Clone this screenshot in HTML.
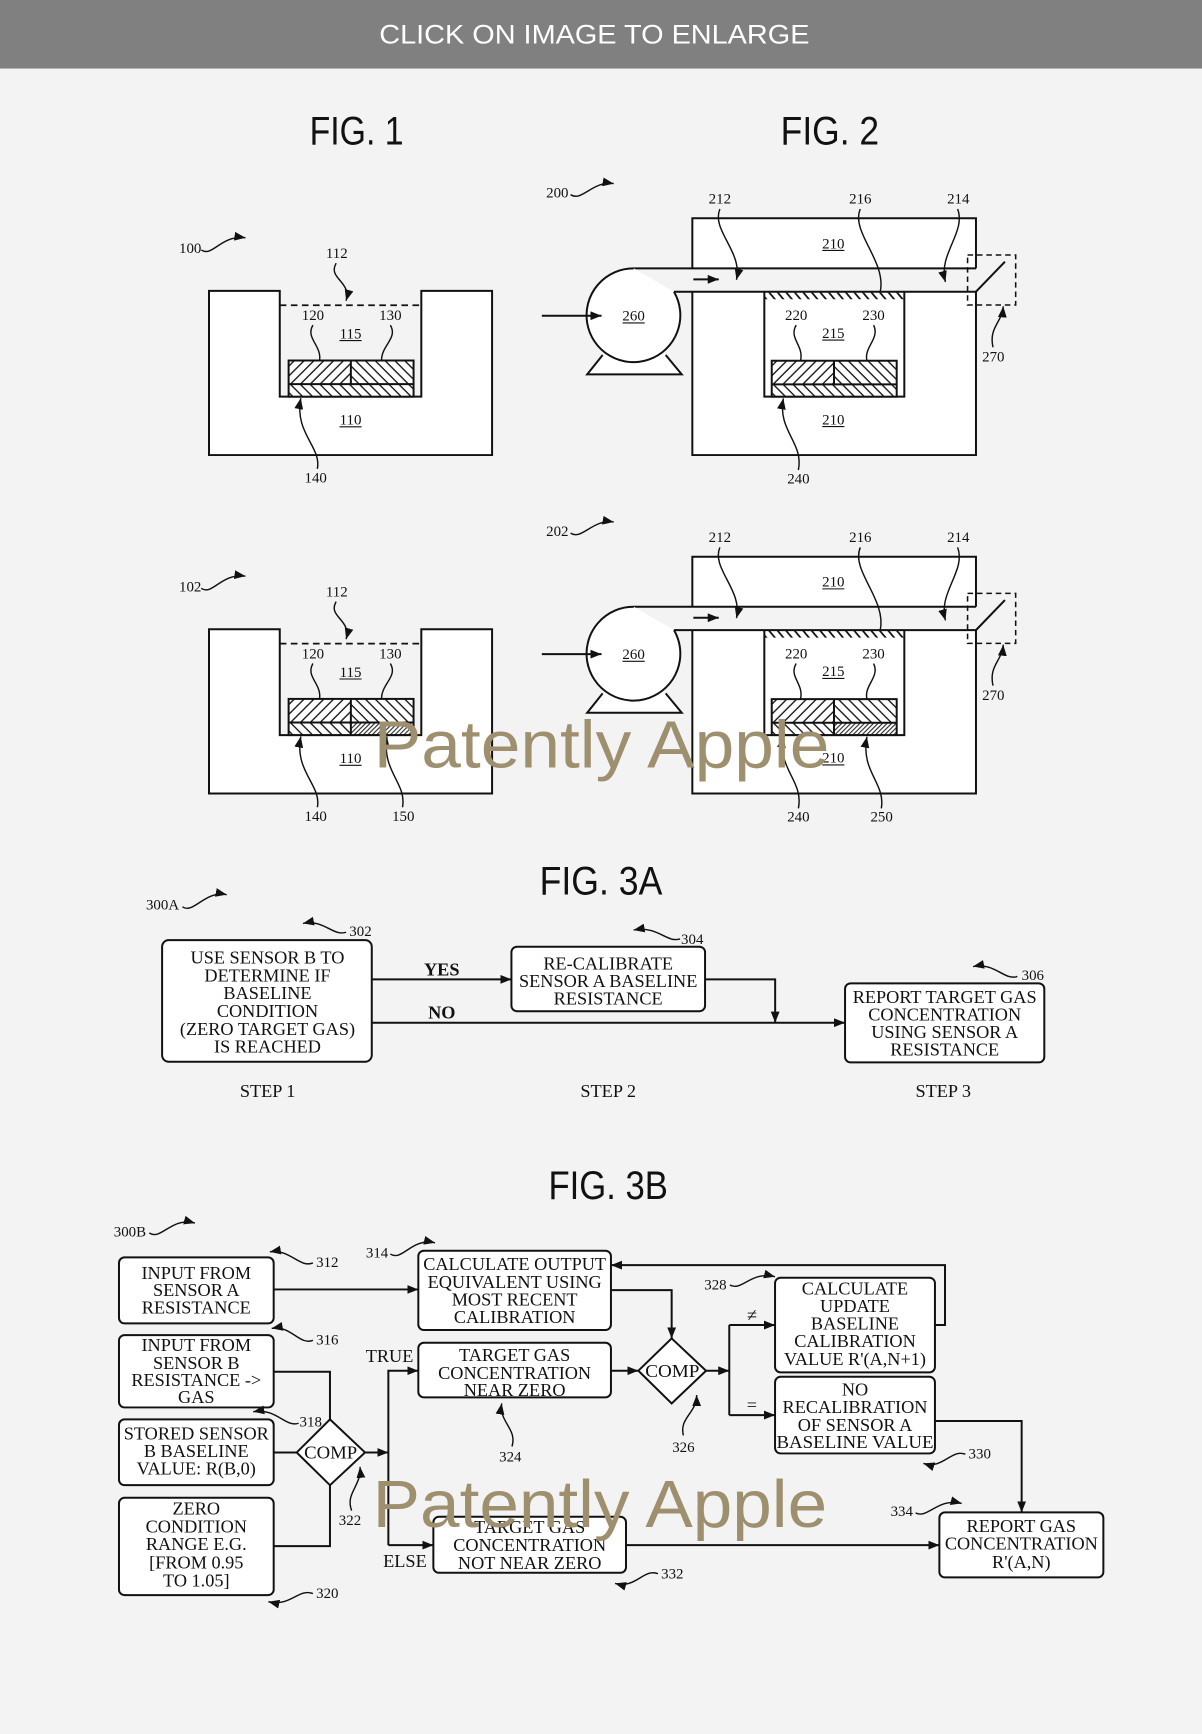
<!DOCTYPE html>
<html>
<head>
<meta charset="utf-8">
<style>
html,body{margin:0;padding:0;background:#f3f3f3;}
svg{display:block;}
.n{font-family:"Liberation Serif",serif;font-size:13.5px;text-anchor:middle;fill:#111;}
.t{font-family:"Liberation Serif",serif;font-size:16.5px;text-anchor:middle;fill:#111;}
.tb{font-family:"Liberation Serif",serif;font-size:16.5px;text-anchor:middle;font-weight:bold;fill:#111;}
.ttl{font-family:"DejaVu Sans ExtraLight","Liberation Sans",sans-serif;font-size:36px;text-anchor:start;fill:#111;}
.ln{fill:none;stroke:#111;stroke-width:1.8;}
.ld{fill:none;stroke:#111;stroke-width:1.3;}
.bx{fill:#fff;stroke:#111;stroke-width:1.8;}
.wm{font-family:"DejaVu Sans ExtraLight","Liberation Sans",sans-serif;font-size:60px;fill:#9e906e;}
</style>
</head>
<body>
<svg width="1202" height="1734" viewBox="0 0 1087 1568" preserveAspectRatio="none" xmlns="http://www.w3.org/2000/svg">
<defs>
<marker id="ar" viewBox="0 0 10 8" refX="10" refY="4" markerWidth="10" markerHeight="8" markerUnits="userSpaceOnUse" orient="auto" preserveAspectRatio="none"><path d="M0,0 L10,4 L0,8 z" fill="#111"/></marker>
<marker id="as" viewBox="0 0 10 8" refX="10" refY="4" markerWidth="10" markerHeight="8" markerUnits="userSpaceOnUse" orient="auto" preserveAspectRatio="none"><path d="M0,0 L10,4 L0,8 z" fill="#111"/></marker>
<pattern id="hF" width="6.3" height="10" patternUnits="userSpaceOnUse" patternTransform="rotate(45)"><line x1="3" y1="0" x2="3" y2="10" stroke="#111" stroke-width="1.2"/></pattern>
<pattern id="hB" width="6.3" height="10" patternUnits="userSpaceOnUse" patternTransform="rotate(-45)"><line x1="3" y1="0" x2="3" y2="10" stroke="#111" stroke-width="1.2"/></pattern>
<pattern id="hD" width="2.9" height="10" patternUnits="userSpaceOnUse" patternTransform="rotate(45)"><line x1="1.4" y1="0" x2="1.4" y2="10" stroke="#111" stroke-width="0.9"/></pattern>
<pattern id="hM" width="5.9" height="10" patternUnits="userSpaceOnUse" patternTransform="rotate(-40)"><line x1="3" y1="0" x2="3" y2="10" stroke="#111" stroke-width="1.6"/></pattern>
</defs>

<!-- background & header -->
<rect x="0" y="0" width="1087" height="1568" fill="#f3f3f3"/>
<rect x="0" y="0" width="1087" height="62" fill="#808080"/>
<text x="343" y="39.5" font-family="DejaVu Sans ExtraLight, Liberation Sans, sans-serif" font-size="24.5" fill="#fff" textLength="389" lengthAdjust="spacingAndGlyphs">CLICK ON IMAGE TO ENLARGE</text>

<!-- titles -->
<text class="ttl" x="280" y="130.5" textLength="85" lengthAdjust="spacingAndGlyphs">FIG. 1</text>
<text class="ttl" x="706" y="130.5" textLength="89" lengthAdjust="spacingAndGlyphs">FIG. 2</text>
<text class="ttl" x="488" y="809" textLength="111" lengthAdjust="spacingAndGlyphs">FIG. 3A</text>
<text class="ttl" x="496" y="1084" textLength="108" lengthAdjust="spacingAndGlyphs">FIG. 3B</text>

<!-- ================= FIG 1 (100 top, 102 bottom) ================= -->
<g id="f1top">
  <path d="M189,263 H253 V358.7 H381 V263 H445 V411.5 H189 Z" class="bx"/>
  <line x1="253" y1="276" x2="381" y2="276" stroke="#111" stroke-width="1.6" stroke-dasharray="6,4"/>
  <rect x="261" y="326" width="113" height="32.7" fill="#fff"/>
  <rect x="261" y="326" width="56.3" height="21.3" fill="url(#hF)"/>
  <rect x="317.3" y="326" width="56.7" height="21.3" fill="url(#hB)"/>
  <rect x="261" y="347.3" width="113" height="11.4" fill="url(#hB)"/>
  <rect x="261" y="326" width="113" height="32.7" class="ln"/>
  <line x1="261" y1="347.3" x2="374" y2="347.3" class="ln"/>
  <line x1="317.3" y1="326" x2="317.3" y2="347.3" class="ln"/>
  <text class="n" x="172" y="229">100</text>
  <path d="M182,226 C192,233 200,212 222,215" class="ld" marker-end="url(#as)"/>
  <text class="n" x="304.6" y="233.5">112</text>
  <path d="M304,238 C296,252 318,254 313,272" class="ld" marker-end="url(#as)"/>
  <text class="n" x="283" y="289.5">120</text>
  <path d="M283,294 C276,306 291,312 289,326" class="ld"/>
  <text class="n" x="353" y="289.5">130</text>
  <path d="M353,294 C360,306 345,312 345,326" class="ld"/>
  <text class="n" x="317" y="306">115</text>
  <line x1="307" y1="308" x2="327" y2="308" stroke="#111" stroke-width="1"/>
  <text class="n" x="317" y="384">110</text>
  <line x1="307" y1="386" x2="327" y2="386" stroke="#111" stroke-width="1"/>
  <text class="n" x="285.5" y="436.5">140</text>
  <path d="M287,424 C291,404 266,392 272,360" class="ld" marker-end="url(#as)"/>
</g>

<g transform="translate(0,306)">
  <path d="M189,263 H253 V358.7 H381 V263 H445 V411.5 H189 Z" class="bx"/>
  <line x1="253" y1="276" x2="381" y2="276" stroke="#111" stroke-width="1.6" stroke-dasharray="6,4"/>
  <rect x="261" y="326" width="113" height="32.7" fill="#fff"/>
  <rect x="261" y="326" width="56.3" height="21.3" fill="url(#hF)"/>
  <rect x="317.3" y="326" width="56.7" height="21.3" fill="url(#hB)"/>
  <rect x="261" y="347.3" width="56.3" height="11.4" fill="url(#hB)"/>
  <rect x="317.3" y="347.3" width="56.7" height="11.4" fill="url(#hD)"/>
  <rect x="261" y="326" width="113" height="32.7" class="ln"/>
  <line x1="261" y1="347.3" x2="374" y2="347.3" class="ln"/>
  <line x1="317.3" y1="326" x2="317.3" y2="358.7" class="ln"/>
  <text class="n" x="172" y="229">102</text>
  <path d="M182,226 C192,233 200,212 222,215" class="ld" marker-end="url(#as)"/>
  <text class="n" x="304.6" y="233.5">112</text>
  <path d="M304,238 C296,252 318,254 313,272" class="ld" marker-end="url(#as)"/>
  <text class="n" x="283" y="289.5">120</text>
  <path d="M283,294 C276,306 291,312 289,326" class="ld"/>
  <text class="n" x="353" y="289.5">130</text>
  <path d="M353,294 C360,306 345,312 345,326" class="ld"/>
  <text class="n" x="317" y="306">115</text>
  <line x1="307" y1="308" x2="327" y2="308" stroke="#111" stroke-width="1"/>
  <text class="n" x="317" y="384">110</text>
  <line x1="307" y1="386" x2="327" y2="386" stroke="#111" stroke-width="1"/>
  <text class="n" x="285.5" y="436.5">140</text>
  <path d="M287,424 C291,404 266,392 272,360" class="ld" marker-end="url(#as)"/>
  <text class="n" x="364.7" y="436.5">150</text>
  <path d="M364,424 C368,402 345,392 350,360" class="ld" marker-end="url(#as)"/>
</g>

<!-- ================= FIG 2 (200 top, 202 bottom) ================= -->
<g id="f2top">
  <rect x="626.1" y="197.4" width="256.5" height="214.1" fill="#fff"/>
  <rect x="609" y="242.7" width="273.6" height="21.1" fill="#f3f3f3"/>
  <path d="M626.1,242.7 V197.4 H882.6 V242.7 M882.6,263.8 V411.5 H626.1 V263.8" class="ln"/>
  <path d="M573.3,242.7 H882.6 M609.5,263.8 H882.6" class="ln"/>
  <path d="M691.2,263.8 V358.7 H817.8 V263.8" class="ln"/>
  <rect x="691.2" y="264.6" width="126.6" height="6" fill="url(#hM)"/>
  <rect x="697.9" y="326.2" width="113" height="32.5" fill="#fff"/>
  <rect x="697.9" y="326.2" width="56.3" height="21.4" fill="url(#hF)"/>
  <rect x="754.2" y="326.2" width="56.7" height="21.4" fill="url(#hB)"/>
  <rect x="697.9" y="347.6" width="113" height="11.1" fill="url(#hB)"/>
  <rect x="697.9" y="326.2" width="113" height="32.5" class="ln"/>
  <line x1="697.9" y1="347.6" x2="810.9" y2="347.6" class="ln"/>
  <line x1="754.2" y1="326.2" x2="754.2" y2="347.6" class="ln"/>
  <!-- pump -->
  <path d="M545,321 L531,338.5 H616.5 L602,321" class="bx"/>
  <path d="M573.3,242.7 A42.4,42.4 0 1 0 609.5,263.8" class="bx"/>
  <line x1="490" y1="285.5" x2="544" y2="285.5" class="ln" marker-end="url(#ar)"/>
  <line x1="627" y1="252.6" x2="650" y2="252.6" class="ln" marker-end="url(#ar)"/>
  <text class="n" x="573" y="290">260</text>
  <line x1="563" y1="292" x2="583" y2="292" stroke="#111" stroke-width="1"/>
  <!-- switch 270 -->
  <rect x="875" y="230.6" width="43.5" height="45.2" fill="none" stroke="#111" stroke-width="1.4" stroke-dasharray="5,3.5"/>
  <line x1="882.6" y1="263.8" x2="908.8" y2="236.6" class="ln"/>
  <!-- labels -->
  <text class="n" x="504" y="178.7">200</text>
  <path d="M516,176 C526,183 536,163 555,166" class="ld" marker-end="url(#as)"/>
  <text class="n" x="651" y="184">212</text>
  <path d="M651,189 C643,208 672,228 666,253" class="ld" marker-end="url(#as)"/>
  <text class="n" x="778" y="184">216</text>
  <path d="M778,189 C769,210 802,236 796,264" class="ld"/>
  <text class="n" x="866.6" y="184">214</text>
  <path d="M866,189 C874,210 848,230 855,255" class="ld" marker-end="url(#as)"/>
  <text class="n" x="753.6" y="224.5">210</text>
  <line x1="743.6" y1="226.5" x2="763.6" y2="226.5" stroke="#111" stroke-width="1"/>
  <text class="n" x="720" y="289.5">220</text>
  <path d="M720,294 C713,306 727,312 724,326" class="ld"/>
  <text class="n" x="790" y="289.5">230</text>
  <path d="M790,294 C796,306 781,314 784,326" class="ld"/>
  <text class="n" x="753.6" y="305.5">215</text>
  <line x1="743.6" y1="307.5" x2="763.6" y2="307.5" stroke="#111" stroke-width="1"/>
  <text class="n" x="753.6" y="383.7">210</text>
  <line x1="743.6" y1="385.7" x2="763.6" y2="385.7" stroke="#111" stroke-width="1"/>
  <text class="n" x="722" y="437">240</text>
  <path d="M722,425 C727,400 703,390 708.4,360.2" class="ld" marker-end="url(#as)"/>
  <text class="n" x="898.3" y="327">270</text>
  <path d="M898,314 C894,296 906,292 907.3,277" class="ld" marker-end="url(#as)"/>
</g>

<g transform="translate(0,306)">
  <rect x="626.1" y="197.4" width="256.5" height="214.1" fill="#fff"/>
  <rect x="609" y="242.7" width="273.6" height="21.1" fill="#f3f3f3"/>
  <path d="M626.1,242.7 V197.4 H882.6 V242.7 M882.6,263.8 V411.5 H626.1 V263.8" class="ln"/>
  <path d="M573.3,242.7 H882.6 M609.5,263.8 H882.6" class="ln"/>
  <path d="M691.2,263.8 V358.7 H817.8 V263.8" class="ln"/>
  <rect x="691.2" y="264.6" width="126.6" height="6" fill="url(#hM)"/>
  <rect x="697.9" y="326.2" width="113" height="32.5" fill="#fff"/>
  <rect x="697.9" y="326.2" width="56.3" height="21.4" fill="url(#hF)"/>
  <rect x="754.2" y="326.2" width="56.7" height="21.4" fill="url(#hB)"/>
  <rect x="697.9" y="347.6" width="56.3" height="11.1" fill="url(#hB)"/>
  <rect x="754.2" y="347.6" width="56.7" height="11.1" fill="url(#hD)"/>
  <rect x="697.9" y="326.2" width="113" height="32.5" class="ln"/>
  <line x1="697.9" y1="347.6" x2="810.9" y2="347.6" class="ln"/>
  <line x1="754.2" y1="326.2" x2="754.2" y2="358.7" class="ln"/>
  <path d="M545,321 L531,338.5 H616.5 L602,321" class="bx"/>
  <path d="M573.3,242.7 A42.4,42.4 0 1 0 609.5,263.8" class="bx"/>
  <line x1="490" y1="285.5" x2="544" y2="285.5" class="ln" marker-end="url(#ar)"/>
  <line x1="627" y1="252.6" x2="650" y2="252.6" class="ln" marker-end="url(#ar)"/>
  <text class="n" x="573" y="290">260</text>
  <line x1="563" y1="292" x2="583" y2="292" stroke="#111" stroke-width="1"/>
  <rect x="875" y="230.6" width="43.5" height="45.2" fill="none" stroke="#111" stroke-width="1.4" stroke-dasharray="5,3.5"/>
  <line x1="882.6" y1="263.8" x2="908.8" y2="236.6" class="ln"/>
  <text class="n" x="504" y="178.7">202</text>
  <path d="M516,176 C526,183 536,163 555,166" class="ld" marker-end="url(#as)"/>
  <text class="n" x="651" y="184">212</text>
  <path d="M651,189 C643,208 672,228 666,253" class="ld" marker-end="url(#as)"/>
  <text class="n" x="778" y="184">216</text>
  <path d="M778,189 C769,210 802,236 796,264" class="ld"/>
  <text class="n" x="866.6" y="184">214</text>
  <path d="M866,189 C874,210 848,230 855,255" class="ld" marker-end="url(#as)"/>
  <text class="n" x="753.6" y="224.5">210</text>
  <line x1="743.6" y1="226.5" x2="763.6" y2="226.5" stroke="#111" stroke-width="1"/>
  <text class="n" x="720" y="289.5">220</text>
  <path d="M720,294 C713,306 727,312 724,326" class="ld"/>
  <text class="n" x="790" y="289.5">230</text>
  <path d="M790,294 C796,306 781,314 784,326" class="ld"/>
  <text class="n" x="753.6" y="305.5">215</text>
  <line x1="743.6" y1="307.5" x2="763.6" y2="307.5" stroke="#111" stroke-width="1"/>
  <text class="n" x="753.6" y="383.7">210</text>
  <line x1="743.6" y1="385.7" x2="763.6" y2="385.7" stroke="#111" stroke-width="1"/>
  <text class="n" x="722" y="437">240</text>
  <path d="M722,425 C727,400 703,390 708.4,360.2" class="ld" marker-end="url(#as)"/>
  <text class="n" x="797.3" y="437">250</text>
  <path d="M797,425 C801,402 778,392 784,360.2" class="ld" marker-end="url(#as)"/>
  <text class="n" x="898.3" y="327">270</text>
  <path d="M898,314 C894,296 906,292 907.3,277" class="ld" marker-end="url(#as)"/>
</g>

<!-- ================= FIG 3A ================= -->
<text class="n" x="147" y="822.5">300A</text>
<path d="M165,820 C175,827 185,805 205,809" class="ld" marker-end="url(#as)"/>

<rect x="146.6" y="850.1" width="189.6" height="110" rx="6" class="bx"/>
<text class="t" x="241.9" y="871.3">USE SENSOR B TO</text>
<text class="t" x="241.9" y="887.4">DETERMINE IF</text>
<text class="t" x="241.9" y="903.5">BASELINE</text>
<text class="t" x="241.9" y="919.6">CONDITION</text>
<text class="t" x="241.9" y="935.7">(ZERO TARGET GAS)</text>
<text class="t" x="241.9" y="951.8">IS REACHED</text>
<text class="n" x="326" y="846.4">302</text>
<path d="M313,843 C301,847 293,831 274,835" class="ld" marker-end="url(#as)"/>

<rect x="462.5" y="856.1" width="175.1" height="58.3" rx="5" class="bx"/>
<text class="t" x="550" y="876.7">RE-CALIBRATE</text>
<text class="t" x="550" y="892.6">SENSOR A BASELINE</text>
<text class="t" x="550" y="908.3">RESISTANCE</text>
<text class="n" x="626" y="853.7">304</text>
<path d="M615,849 C603,853 595,837 573,841" class="ld" marker-end="url(#as)"/>

<rect x="764.2" y="889.2" width="180.2" height="71.5" rx="5" class="bx"/>
<text class="t" x="854.3" y="906.8">REPORT TARGET GAS</text>
<text class="t" x="854.3" y="922.8">CONCENTRATION</text>
<text class="t" x="854.3" y="938.5">USING SENSOR A</text>
<text class="t" x="854.3" y="954.4">RESISTANCE</text>
<text class="n" x="934" y="886.2">306</text>
<path d="M920,883 C908,887 900,870 880,874" class="ld" marker-end="url(#as)"/>

<path d="M336.2,885.6 H462.5" class="ln" marker-end="url(#ar)"/>
<path d="M336.2,924.8 H764.2" class="ln" marker-end="url(#ar)"/>
<path d="M637.6,885.6 H701 V924.8" class="ln" marker-end="url(#ar)"/>
<text class="tb" x="399.5" y="882">YES</text>
<text class="tb" x="399.5" y="921">NO</text>

<text class="t" x="242" y="992">STEP 1</text>
<text class="t" x="550" y="992">STEP 2</text>
<text class="t" x="853" y="992">STEP 3</text>

<!-- ================= FIG 3B ================= -->
<text class="n" x="117.5" y="1118.3">300B</text>
<path d="M135,1115 C146,1122 155,1100 176.3,1106" class="ld" marker-end="url(#as)"/>

<rect x="107.6" y="1137" width="139.9" height="59.7" rx="5" class="bx"/>
<text class="t" x="177.5" y="1156.4">INPUT FROM</text>
<text class="t" x="177.5" y="1172.1">SENSOR A</text>
<text class="t" x="177.5" y="1187.8">RESISTANCE</text>
<text class="n" x="296" y="1145.5">312</text>
<path d="M283,1142 C271,1147 262,1129 244,1132" class="ld" marker-end="url(#as)"/>

<rect x="107.6" y="1207.3" width="139.9" height="65.4" rx="5" class="bx"/>
<text class="t" x="177.5" y="1221.8">INPUT FROM</text>
<text class="t" x="177.5" y="1237.8">SENSOR B</text>
<text class="t" x="177.5" y="1253.5">RESISTANCE -&gt;</text>
<text class="t" x="177.5" y="1268.8">GAS</text>
<text class="n" x="296" y="1215.7">316</text>
<path d="M283,1212 C271,1217 263,1198 245.7,1201.2" class="ld" marker-end="url(#as)"/>

<rect x="107.6" y="1283.5" width="139.9" height="59.5" rx="5" class="bx"/>
<text class="t" x="177.5" y="1301.7">STORED SENSOR</text>
<text class="t" x="177.5" y="1317.7">B BASELINE</text>
<text class="t" x="177.5" y="1333.3">VALUE: R(B,0)</text>
<text class="n" x="281" y="1290">318</text>
<path d="M270,1287 C258,1291 250,1273 229,1276.6" class="ld" marker-end="url(#as)"/>

<rect x="107.6" y="1354.4" width="139.9" height="88" rx="5" class="bx"/>
<text class="t" x="177.5" y="1369.5">ZERO</text>
<text class="t" x="177.5" y="1386">CONDITION</text>
<text class="t" x="177.5" y="1401.8">RANGE E.G.</text>
<text class="t" x="177.5" y="1418.3">[FROM 0.95</text>
<text class="t" x="177.5" y="1434.4">TO 1.05]</text>
<text class="n" x="296" y="1444.8">320</text>
<path d="M283,1441 C270,1436 263,1453 242.7,1448.4" class="ld" marker-end="url(#as)"/>

<polygon points="298.4,1283.5 330.1,1313.4 298.4,1343 268.3,1313.4" class="bx"/>
<text class="t" x="299" y="1319" textLength="48" lengthAdjust="spacingAndGlyphs">COMP</text>
<text class="n" x="316.5" y="1379">322</text>
<path d="M318,1366 C312,1350 327,1344 325.6,1326.4" class="ld" marker-end="url(#as)"/>

<rect x="378.3" y="1131" width="174.2" height="71.7" rx="5" class="bx"/>
<text class="t" x="465.4" y="1148.5">CALCULATE OUTPUT</text>
<text class="t" x="465.4" y="1164.5">EQUIVALENT USING</text>
<text class="t" x="465.4" y="1180.5">MOST RECENT</text>
<text class="t" x="465.4" y="1196.2">CALIBRATION</text>
<text class="n" x="341" y="1137.3">314</text>
<path d="M353,1134 C364,1141 372,1119 393.4,1123.8" class="ld" marker-end="url(#as)"/>

<rect x="378.3" y="1214.2" width="174.2" height="49.4" rx="5" class="bx"/>
<text class="t" x="465.4" y="1230.9">TARGET GAS</text>
<text class="t" x="465.4" y="1246.8">CONCENTRATION</text>
<text class="t" x="465.4" y="1262.5">NEAR ZERO</text>
<text class="n" x="461.5" y="1321.8">324</text>
<path d="M463,1308 C468,1292 451,1286 453.7,1269" class="ld" marker-end="url(#as)"/>

<text class="t" x="373.8" y="1231.8" style="text-anchor:end">TRUE</text>
<text class="t" x="385.9" y="1416.9" style="text-anchor:end">ELSE</text>

<rect x="391.9" y="1371.6" width="174.2" height="50.6" rx="5" class="bx"/>
<text class="t" x="479" y="1386.1">TARGET GAS</text>
<text class="t" x="479" y="1402.7">CONCENTRATION</text>
<text class="t" x="479" y="1418.6">NOT NEAR ZERO</text>
<text class="n" x="608" y="1427.3">332</text>
<path d="M595,1423 C582,1418 575,1437 556.2,1431.8" class="ld" marker-end="url(#as)"/>

<polygon points="607.4,1210.3 638.5,1239.5 607.4,1269.1 577.3,1239.5" class="bx"/>
<text class="t" x="608" y="1245" textLength="49" lengthAdjust="spacingAndGlyphs">COMP</text>
<text class="n" x="618" y="1312.8">326</text>
<path d="M618,1298 C614,1282 630,1278 630,1261.5" class="ld" marker-end="url(#as)"/>

<rect x="700.9" y="1155.4" width="144.6" height="85.6" rx="5" class="bx"/>
<text class="t" x="773.2" y="1170.5">CALCULATE</text>
<text class="t" x="773.2" y="1186.3">UPDATE</text>
<text class="t" x="773.2" y="1202.2">BASELINE</text>
<text class="t" x="773.2" y="1218.2">CALIBRATION</text>
<text class="t" x="773.2" y="1234.5">VALUE R'(A,N+1)</text>
<text class="n" x="647" y="1165.9">328</text>
<path d="M660,1162 C671,1168 679,1149 700.9,1154.5" class="ld" marker-end="url(#as)"/>

<rect x="700.9" y="1245" width="144.6" height="69.3" rx="5" class="bx"/>
<text class="t" x="773.2" y="1261.9">NO</text>
<text class="t" x="773.2" y="1277.6">RECALIBRATION</text>
<text class="t" x="773.2" y="1294.2">OF SENSOR A</text>
<text class="t" x="773.2" y="1309.2" textLength="142" lengthAdjust="spacingAndGlyphs">BASELINE VALUE</text>
<text class="n" x="886" y="1318.8">330</text>
<path d="M873,1315 C860,1310 853,1329 835,1323.3" class="ld" marker-end="url(#as)"/>

<text class="t" x="680" y="1194.5">≠</text>
<text class="t" x="680" y="1276">=</text>

<rect x="849.5" y="1367.6" width="148.3" height="58.8" rx="5" class="bx"/>
<text class="t" x="923.6" y="1385.5">REPORT GAS</text>
<text class="t" x="923.6" y="1401.2">CONCENTRATION</text>
<text class="t" x="923.6" y="1417.7">R'(A,N)</text>
<text class="n" x="815.5" y="1370.9">334</text>
<path d="M828,1368 C839,1374 848,1354 869.7,1359.5" class="ld" marker-end="url(#as)"/>

<!-- connectors 3B -->
<path d="M247.5,1166 H378.3" class="ln" marker-end="url(#ar)"/>
<path d="M247.5,1240.4 H298.4 V1283.5" class="ln"/>
<path d="M247.5,1313.4 H268.3" class="ln"/>
<path d="M247.5,1398.1 H298.4 V1343" class="ln"/>
<path d="M330.1,1313.4 H351.2" class="ln" marker-end="url(#ar)"/>
<path d="M351.2,1397.2 V1239.5 H378.3" class="ln" marker-end="url(#ar)"/>
<path d="M351.2,1397.2 H391.9" class="ln" marker-end="url(#ar)"/>
<path d="M552.5,1166.6 H607.4 V1210.3" class="ln" marker-end="url(#ar)"/>
<path d="M552.5,1239.5 H577.3" class="ln" marker-end="url(#ar)"/>
<path d="M638.5,1239.5 H659.5" class="ln" marker-end="url(#ar)"/>
<path d="M659.5,1198.2 V1279.6" class="ln"/>
<path d="M659.5,1198.2 H700.9" class="ln" marker-end="url(#ar)"/>
<path d="M659.5,1279.6 H700.9" class="ln" marker-end="url(#ar)"/>
<path d="M845.5,1198.2 H854.6 V1144 H552.5" class="ln" marker-end="url(#ar)"/>
<path d="M845.5,1285 H923.9 V1367.6" class="ln" marker-end="url(#ar)"/>
<path d="M566.1,1397.2 H849.5" class="ln" marker-end="url(#ar)"/>

<!-- watermarks -->
<text class="wm" x="338" y="694" textLength="412" lengthAdjust="spacingAndGlyphs">Patently Apple</text>
<text class="wm" x="337" y="1381" textLength="411" lengthAdjust="spacingAndGlyphs">Patently Apple</text>
</svg>
</body>
</html>
